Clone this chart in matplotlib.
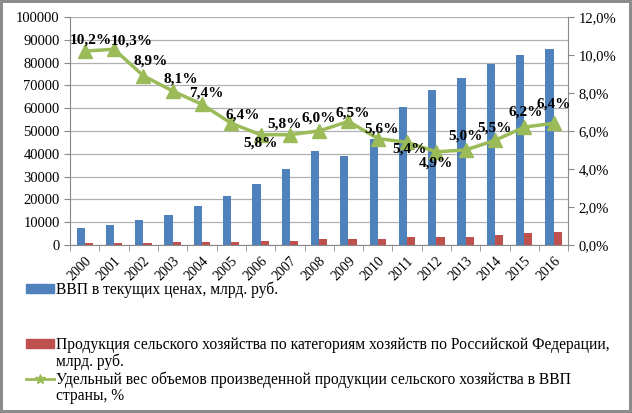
import matplotlib
matplotlib.use("Agg")
import matplotlib.pyplot as plt
import numpy as np
from matplotlib.ticker import FuncFormatter, MultipleLocator
from matplotlib.patches import Patch
from matplotlib.lines import Line2D

plt.rcParams['font.family'] = ['Liberation Serif', 'DejaVu Serif']

# данные
years = ['2000', '2001', '2002', '2003', '2004', '2005', '2006', '2007', '2008',
         '2009', '2010', '2011', '2012', '2013', '2014', '2015', '2016']
vvp = [7306, 8944, 10831, 13208, 17027, 21610, 26917, 33248, 41277,
       38807, 46309, 60283, 68164, 73134, 79200, 83387, 86044]
selhoz = [742, 917, 973, 1067, 1262, 1380, 1570, 1931, 2461,
          2516, 2588, 3261, 3340, 3688, 4319, 5037, 5505]
dolya = [10.2, 10.3, 8.9, 8.1, 7.4, 6.4, 5.8, 5.8, 6.0,
         6.5, 5.6, 5.4, 4.9, 5.0, 5.5, 6.2, 6.4]

lab_vvp = "ВВП в текущих ценах, млрд. руб."
lab_sh = ["Продукция сельского хозяйства по категориям хозяйств по Российской Федерации,",
          "млрд. руб."]
lab_d = ["Удельный вес объемов произведенной продукции сельского хозяйства в ВВП",
         "страны, %"]

c_blue = '#4F81BD'
c_red = '#C0504D'
c_green = '#9BBB59'

fig = plt.figure(figsize=(6.32, 4.13), dpi=100)
fig.patch.set_edgecolor('#8c8c8c')
fig.patch.set_linewidth(3)
ax = fig.add_axes([0.111, 0.407, 0.788, 0.552])
x = np.arange(len(years))
w = 0.28
ax.bar(x - w / 2, vvp, w, color=c_blue, zorder=2)
ax.bar(x + w / 2, selhoz, w, color=c_red, zorder=2)
ax.set_xlim(-0.5, len(years) - 0.5)
ax.set_ylim(0, 100000)
ax.yaxis.set_major_locator(MultipleLocator(10000))
ax.grid(axis='y', color='#b0b0b0', lw=0.9, zorder=0)
ax.set_xticks(x)
ax.set_xticklabels(years, rotation=45, ha='right', rotation_mode='anchor', fontsize=10)
ax.set_xticks(np.arange(-0.5, len(years)), minor=True)
ax.tick_params(axis='x', which='major', length=0, pad=7)
ax.tick_params(axis='x', which='minor', length=4, color='#888888')
ax.tick_params(axis='y', labelsize=10.5, length=4, color='#888888')
for s in ['top', 'right']:
    ax.spines[s].set_visible(False)
for s in ['left', 'bottom']:
    ax.spines[s].set_color('#888888')

ax2 = ax.twinx()
ax2.plot(x, [d / 100 for d in dolya], color=c_green, lw=2.5, marker='^', ms=10, zorder=3)
ax2.set_ylim(0, 0.12)
ax2.yaxis.set_major_locator(MultipleLocator(0.02))
ax2.yaxis.set_major_formatter(FuncFormatter(lambda v, p: ('%.1f%%' % (v * 100)).replace('.', ',')))
ax2.tick_params(axis='y', labelsize=10.5, length=4, color='#888888')
for s in ['top', 'left', 'bottom']:
    ax2.spines[s].set_visible(False)
ax2.spines['right'].set_color('#888888')

# смещения подписей (в пунктах)
offs = [(4, 8), (13, 6), (5, 11), (6, 9), (3, 8), (8, 6), (0, -6), (-4, 8), (0, 9),
        (3, 6), (3, 7), (2, -5), (0, -8), (0, 10), (0, 9), (1, 11), (0, 14)]
for i, d in enumerate(dolya):
    ax2.annotate(('%.1f%%' % d).replace('.', ','), (x[i], d / 100), xytext=offs[i],
                 textcoords='offset points', ha='center', va='center',
                 fontsize=11, fontweight='bold', zorder=4)

leg_kw = dict(loc='upper left', frameon=False, fontsize=11.25, handlelength=1.8,
              handleheight=0.45, handletextpad=0.15, borderaxespad=0, borderpad=0,
              labelspacing=0.05)
fig.legend(handles=[Patch(color=c_blue)], labels=[lab_vvp],
           bbox_to_anchor=(0.041, 0.318), **leg_kw)
pusto = Patch(alpha=0)
fig.legend(handles=[Patch(color=c_red), pusto,
                    Line2D([], [], color=c_green, lw=2, marker='*', ms=7), pusto],
           labels=[lab_sh[0], lab_sh[1], lab_d[0], lab_d[1]],
           bbox_to_anchor=(0.041, 0.184), **leg_kw)

fig.savefig('out.png', dpi=100)
